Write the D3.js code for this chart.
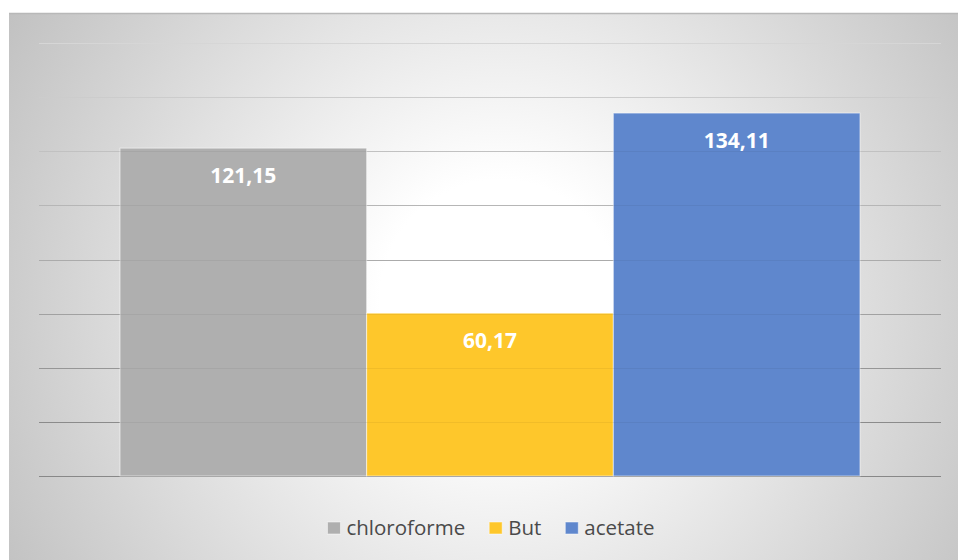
<!DOCTYPE html>
<html>
<head>
<meta charset="utf-8">
<script src="https://cdn.jsdelivr.net/npm/d3@7/dist/d3.min.js"></script>
<style>
  html, body { margin: 0; padding: 0; background: #ffffff; }
  svg { display: block; }
</style>
</head>
<body>
<svg id="chart" width="958" height="560"></svg>
<script>
// ---- data ----
const categories = ["Série"];
const seriesNames = ["chloroforme", "But", "acetate"];
const seriesValues = [121.15, 60.17, 134.11];
const seriesColors = ["#afafaf", "#fec72b", "#5f87cd"];
const yTicks = [0, 20, 40, 60, 80, 100, 120, 140, 160];

const W = 958, H = 560;
const svg = d3.select("#chart");
const defs = svg.append("defs");

// background radial gradient
const bg = defs.append("radialGradient").attr("id", "bg")
  .attr("gradientUnits", "userSpaceOnUse")
  .attr("cx", 500).attr("cy", 300).attr("r", 600);
bg.append("stop").attr("offset", 0).attr("stop-color", "#ffffff");
bg.append("stop").attr("offset", 0.2).attr("stop-color", "#ffffff");
bg.append("stop").attr("offset", 1).attr("stop-color", "#bdbdbd");

svg.append("rect").attr("x", 9).attr("y", 13).attr("width", W - 9).attr("height", H - 13)
  .attr("fill", "url(#bg)");
svg.append("line").attr("x1", 9).attr("x2", W).attr("y1", 13.5).attr("y2", 13.5)
  .attr("stroke", "#b8b8b8").attr("stroke-width", 1.5);

// plot area
const plot = { left: 39, right: 941, top: 43, bottom: 476 };
const y = d3.scaleLinear().domain([0, 160]).range([plot.bottom, plot.top]);
const x0 = d3.scaleBand().domain(categories).range([plot.left, plot.right])
  .paddingInner(0).paddingOuter(0.1095);
const x1 = d3.scaleBand().domain(seriesNames).range([0, x0.bandwidth()]).padding(0);

const lineColor = d3.scaleLinear().domain([plot.top, plot.bottom])
  .range(["#e2e2e2", "#888888"]);

// gridlines
const grid = svg.append("g");
grid.selectAll("line").data(yTicks).join("line")
  .attr("x1", plot.left).attr("x2", plot.right)
  .attr("y1", d => Math.round(y(d)) + 0.5).attr("y2", d => Math.round(y(d)) + 0.5)
  .attr("stroke", d => lineColor(y(d)))
  .attr("stroke-width", 1.2);

const data = seriesNames.map((s, i) => ({ cat: categories[0], name: s, value: seriesValues[i], color: seriesColors[i] }));

// bars
const bars = svg.append("g");
bars.selectAll("rect").data(data).join("rect")
  .attr("x", d => x0(d.cat) + x1(d.name))
  .attr("y", d => y(d.value))
  .attr("width", x1.bandwidth())
  .attr("height", d => y(0) - y(d.value))
  .attr("fill", d => d.color)
  .attr("stroke", "rgba(255,255,255,0.55)")
  .attr("stroke-width", 1);

// faint gridlines showing through bars
svg.append("g").selectAll("line").data(yTicks.filter(t => t > 0)).join("line")
  .attr("x1", plot.left).attr("x2", plot.right)
  .attr("y1", d => Math.round(y(d)) + 0.5).attr("y2", d => Math.round(y(d)) + 0.5)
  .attr("stroke", "#000").attr("stroke-opacity", 0.05).attr("stroke-width", 1.2);

// labels
const fmt = v => d3.format(".2f")(v).replace(".", ",");
svg.append("g").selectAll("text").data(data).join("text")
  .attr("x", d => x0(d.cat) + x1(d.name) + x1.bandwidth() / 2)
  .attr("y", d => y(d.value) + 35)
  .attr("text-anchor", "middle")
  .attr("font-family", "'Open Sans', sans-serif")
  .attr("font-weight", "bold")
  .attr("font-size", 21)
  .attr("fill", "#ffffff")
  .text(d => fmt(d.value));

// legend
const legend = svg.append("g");
const sq = 13, gapSq = 6, gapItem = 24;
const items = legend.selectAll("g").data(data).join("g");
items.append("rect").attr("width", sq).attr("height", 12)
  .attr("fill", d => d.color)
  .attr("stroke", "rgba(255,255,255,0.5)").attr("stroke-width", 1);
items.append("text")
  .attr("x", sq + gapSq).attr("y", 13)
  .attr("font-family", "'Open Sans', sans-serif")
  .attr("font-size", 20.5)
  .attr("fill", "#4a4a4a")
  .text(d => d.name);
const widths = [];
items.each(function() {
  const t = d3.select(this).select("text").node().getComputedTextLength();
  widths.push(sq + gapSq + t);
});
const total = d3.sum(widths) + gapItem * (widths.length - 1);
let cx = 491 - total / 2;
items.attr("transform", (d, i) => {
  const tx = cx; cx += widths[i] + gapItem;
  return `translate(${tx},522)`;
});
</script>
</body>
</html>
